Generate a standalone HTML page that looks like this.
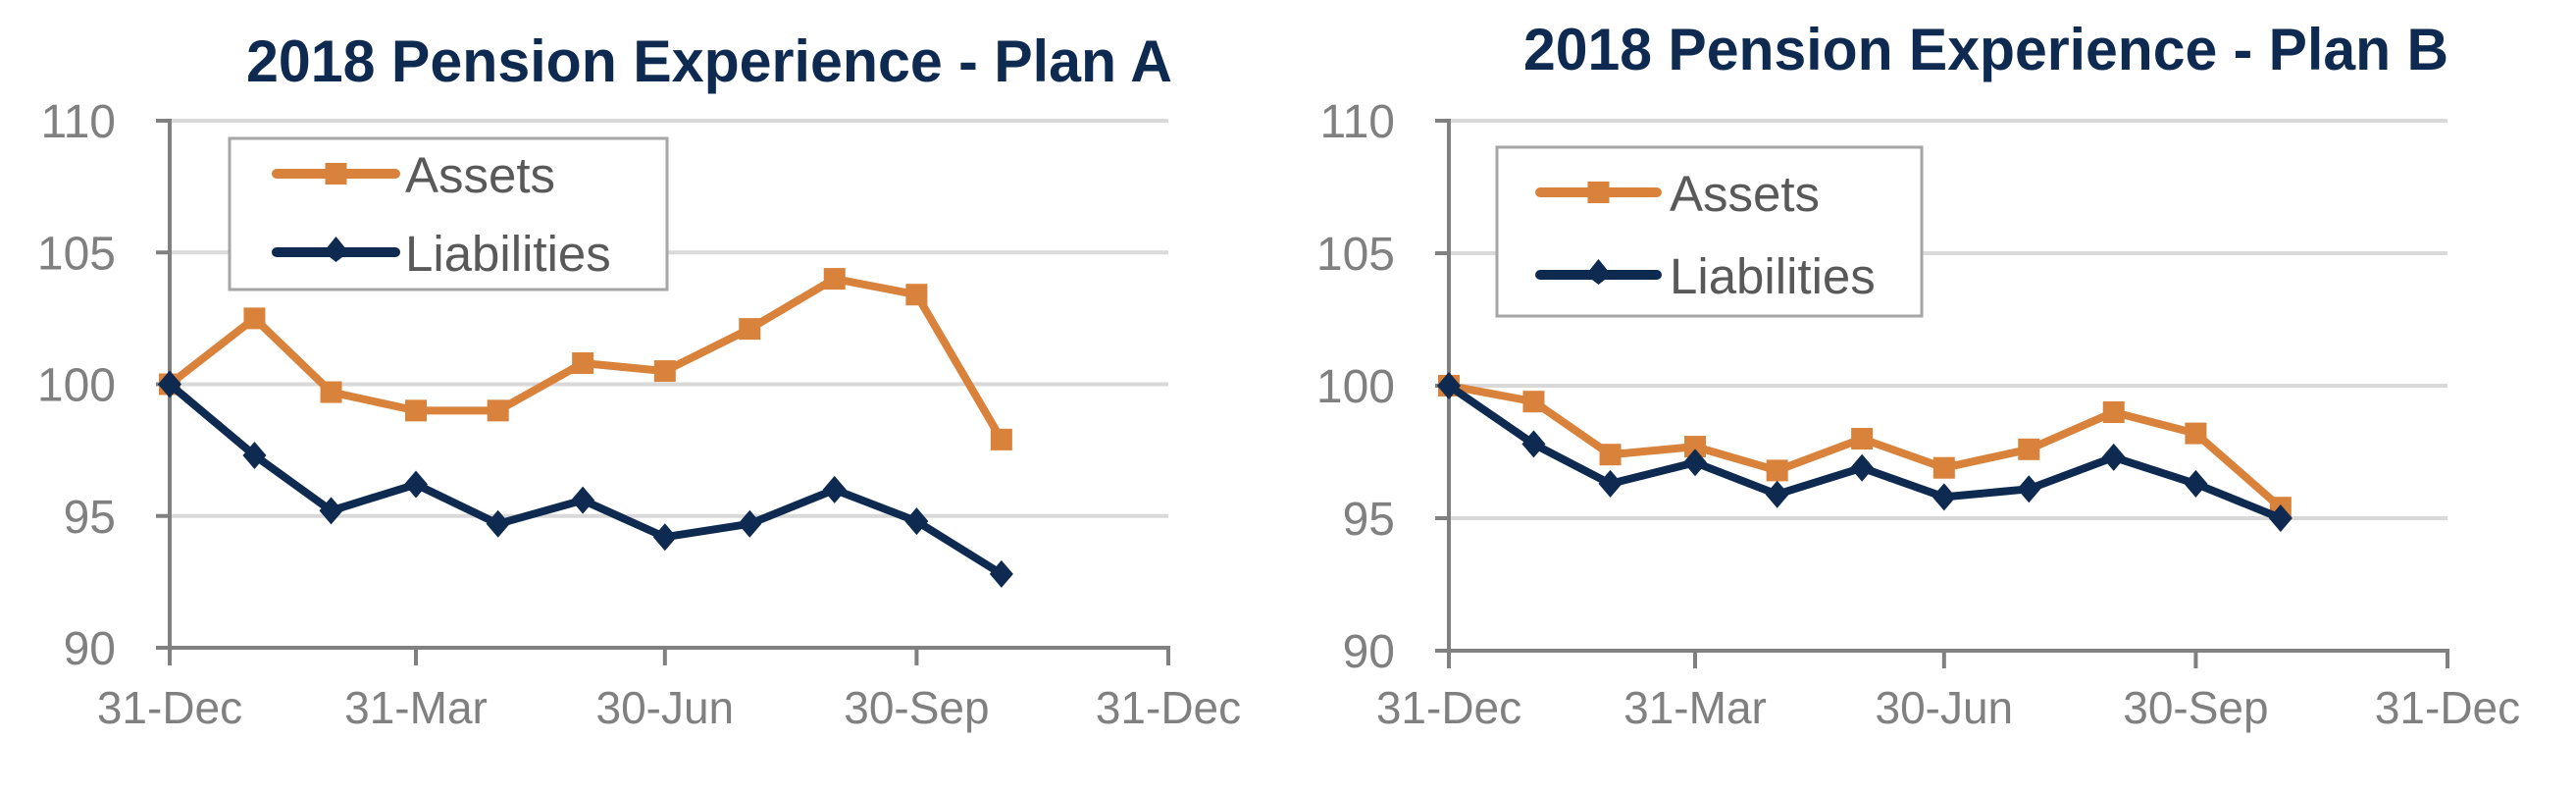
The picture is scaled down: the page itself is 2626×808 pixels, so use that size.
<!DOCTYPE html>
<html><head><meta charset="utf-8"><style>
html,body{margin:0;padding:0;background:#fff;}
svg{display:block;}
text{font-family:"Liberation Sans",sans-serif;}
</style></head><body>
<svg id="chart" width="2626" height="808" viewBox="0 0 2626 808" xmlns="http://www.w3.org/2000/svg"></svg>
<script>
const dayOffsets = [0, 31, 59, 90, 120, 151, 181, 212, 243, 273, 304];
const xTickDays = [0, 90, 181, 273, 365];
const xTickLabels = ["31-Dec", "31-Mar", "30-Jun", "30-Sep", "31-Dec"];
const yTicks = [90, 95, 100, 105, 110];
const planAAssets = [100.0, 102.5, 99.7, 99.0, 99.0, 100.8, 100.5, 102.1, 104.0, 103.4, 97.9];
const planALiabilities = [100.0, 97.3, 95.2, 96.2, 94.7, 95.6, 94.2, 94.7, 96.0, 94.8, 92.8];
const planBAssets = [100.0, 99.4, 97.4, 97.7, 96.8, 98.0, 96.9, 97.6, 99.0, 98.2, 95.4];
const planBLiabilities = [100.0, 97.8, 96.3, 97.1, 95.9, 96.9, 95.8, 96.1, 97.3, 96.3, 95.0];

const NS = "http://www.w3.org/2000/svg";
const svg = document.getElementById("chart");
const ORANGE = "#d9823b", NAVY = "#0e2a50", GRID = "#d9d9d9", AXIS = "#808080", LBL = "#808080";

function mk(tag, attrs, parent) {
  const e = document.createElementNS(NS, tag);
  for (const k in attrs) e.setAttribute(k, attrs[k]);
  (parent || svg).appendChild(e);
  return e;
}

function drawChart(cfg) {
  const g = mk("g", {});
  
  
  const xs = d => cfg.x0 + (d / 365) * (cfg.x1 - cfg.x0);
  const ys = v => cfg.yBot - (v - 90) / 20 * (cfg.yBot - cfg.yTop);

  const t = mk("text", {x: cfg.titleX, y: cfg.titleY, "font-size": 60, "font-weight": "bold", fill: NAVY, textLength: cfg.titleW, lengthAdjust: "spacingAndGlyphs"}, g);
  t.textContent = cfg.title;
  
  

  yTicks.forEach(v => {
    if (v > 90) {
      const gl = mk("line", {x1: cfg.x0, x2: cfg.x1, y1: ys(v), y2: ys(v), stroke: GRID, "stroke-width": 4}, g);
      
      
    }
    mk("line", {x1: cfg.x0 - 14, x2: cfg.x0, y1: ys(v), y2: ys(v), stroke: AXIS, "stroke-width": 4}, g);
    const lt = mk("text", {x: cfg.x0 - 55, y: ys(v) + 17, "font-size": 48, fill: LBL, "text-anchor": "end"}, g);
    lt.textContent = v;
    
    
  });
  const ya = mk("line", {x1: cfg.x0, x2: cfg.x0, y1: ys(110) - 2, y2: ys(90) + 18, stroke: AXIS, "stroke-width": 4}, g);
  
  
  const xa = mk("line", {x1: cfg.x0 - 14, x2: cfg.x1 + 2, y1: ys(90), y2: ys(90), stroke: AXIS, "stroke-width": 4}, g);
  
  
  xTickDays.forEach((d, i) => {
    mk("line", {x1: xs(d), x2: xs(d), y1: ys(90), y2: ys(90) + 18, stroke: AXIS, "stroke-width": 4}, g);
    const xl = mk("text", {x: xs(d), y: 737, "font-size": 46, fill: LBL, "text-anchor": "middle"}, g);
    xl.textContent = xTickLabels[i];
    
    
  });

  function series(vals, color, kind, name) {
    const pts = vals.map((v, i) => xs(dayOffsets[i]) + "," + ys(v)).join(" ");
    const pl = mk("polyline", {points: pts, fill: "none", stroke: color, "stroke-width": 8, "stroke-linejoin": "round"}, g);
    
    
    vals.forEach((v, i) => {
      const cx = xs(dayOffsets[i]), cy = ys(v);
      let m;
      if (kind === "square") m = mk("rect", {x: cx - 11, y: cy - 11, width: 22, height: 22, fill: color}, g);
      else m = mk("polygon", {points: `${cx},${cy-14} ${cx+12},${cy} ${cx},${cy+14} ${cx-12},${cy}`, fill: color}, g);
      
      
    });
  }
  series(cfg.assets, ORANGE, "square", "assets");
  series(cfg.liab, NAVY, "diamond", "liabilities");

  const L = cfg.legend;
  const lb = mk("rect", {x: L.x, y: L.y, width: L.w, height: L.h, fill: "#fff", stroke: "#a6a6a6", "stroke-width": 3}, g);
  
  
  [[ORANGE, "square", "Assets", L.y1], [NAVY, "diamond", "Liabilities", L.y2]].forEach(([c, k, label, ly]) => {
    mk("line", {x1: L.lx1, x2: L.lx2, y1: ly, y2: ly, stroke: c, "stroke-width": 10, "stroke-linecap": "round"}, g);
    const mx = (L.lx1 + L.lx2) / 2;
    if (k === "square") mk("rect", {x: mx - 11, y: ly - 11, width: 22, height: 22, fill: c}, g);
    else mk("polygon", {points: `${mx},${ly-16} ${mx+13},${ly} ${mx},${ly+10} ${mx-13},${ly}`, fill: c}, g);
    const tx = mk("text", {x: L.tx, y: ly + 19, "font-size": 51, fill: "#595959"}, g);
    tx.textContent = label;
    
    
  });
}

drawChart({name: "plan-a-chart", title: "2018 Pension Experience - Plan A", titleX: 251, titleY: 83, titleW: 944,
  x0: 173, x1: 1191, yTop: 123, yBot: 660, assets: planAAssets, liab: planALiabilities,
  legend: {x: 234, y: 141, w: 446, h: 154, lx1: 282, lx2: 403, y1: 177, y2: 257, tx: 413}});
drawChart({name: "plan-b-chart", title: "2018 Pension Experience - Plan B", titleX: 1553, titleY: 71, titleW: 943,
  x0: 1477, x1: 2495, yTop: 123, yBot: 663, assets: planBAssets, liab: planBLiabilities,
  legend: {x: 1526, y: 150, w: 433, h: 172, lx1: 1570, lx2: 1689, y1: 196, y2: 280, tx: 1702}});
</script>
</body></html>
